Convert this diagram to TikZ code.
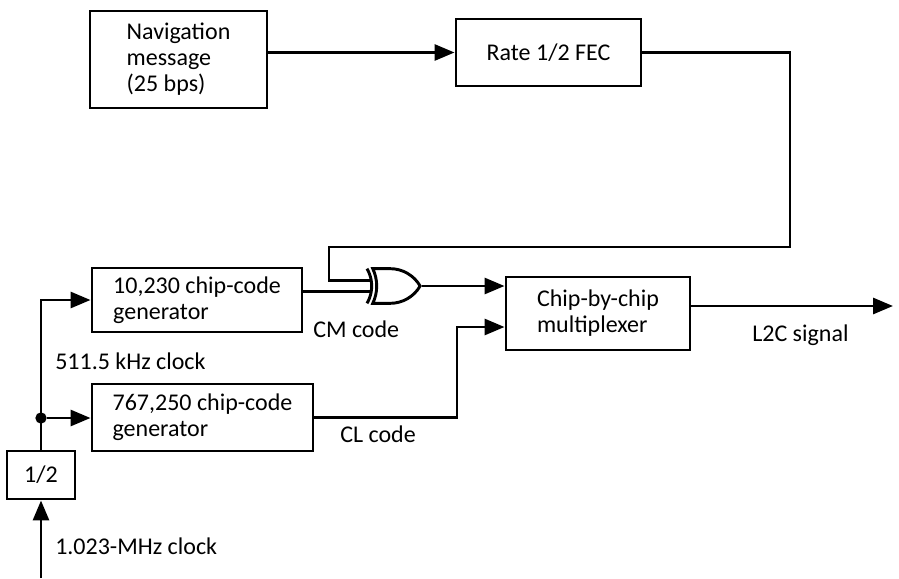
\documentclass[tikz,border=0pt]{standalone}
\usepackage{fontspec}
\setmainfont{Carlito}
\usetikzlibrary{positioning,calc,arrows.meta,shapes.gates.logic.US}
\tikzset{
  blk/.style={rectangle, draw=black, line width=2.2pt, inner sep=0pt, align=left, font=\fontsize{18}{19.5}\selectfont},
  wire/.style={draw=black, line width=2.2pt},
  arr/.style={wire, -{Triangle[length=15pt, width=12pt]}},
  dotn/.style={circle, fill=black, minimum size=8.5pt, inner sep=0pt},
  xorg/.style={xor gate US, draw=black, line width=2.2pt, logic gate inputs=nn, minimum width=35pt, minimum height=26pt, inner sep=0pt},
  lbl/.style={anchor=base west, inner sep=0pt, font=\fontsize{18}{19.5}\selectfont}
}
\begin{document}
\begin{tikzpicture}[x=0.75pt, y=-0.75pt]
  \useasboundingbox (0,0) rectangle (899,578);
  % blocks
  \node[blk, minimum width=132.75pt, minimum height=72.75pt] (nav) at (178.5,59.5) {Navigation\\message\\(25 bps)};
  \node[blk, minimum width=138.75pt, minimum height=50.25pt] (fec) at (548.5,52.5) {Rate 1/2 FEC};
  \node[blk, minimum width=157.5pt, minimum height=48pt] (cmgen) at (197,300) {10,230 chip-code\\generator};
  \node[blk, minimum width=165.75pt, minimum height=50.25pt] (clgen) at (202.5,417.5) {767,250 chip-code\\generator};
  \node[blk, minimum width=138pt, minimum height=54.75pt] (mux) at (598,313.5) {Chip-by-chip\\multiplexer};
  \node[blk, minimum width=51pt, minimum height=36pt] (half) at (41,475) {1/2};
  \node[xorg] (xor) at (393,286) {};
  \node[dotn] (split) at (41,418) {};
  % turning points
  \coordinate (fbR) at (790,247);
  \coordinate (fbL) at (329,247);
  \coordinate (clturn) at (457,327);
  \coordinate (l2c) at (893,306);
  \coordinate (clkin) at (41,578);
  % connectors
  \draw[arr] (fec.west -| nav.east) -- (fec.west);
  \draw[wire] (fec.east) -| (fbR) -- (fbL) |- (xor.input 1);
  \draw[wire] (xor.input 2 -| cmgen.east) -- (xor.input 2);
  \draw[arr] (xor.output) -- (xor.output -| mux.west);
  \draw[arr] (clgen.east) -| (clturn) -- (clturn -| mux.west);
  \draw[arr] (l2c -| mux.east) -- (l2c);
  \draw[arr] (half.north) |- (cmgen.west);
  \draw[arr] (split) -- (split -| clgen.west);
  \draw[arr] (clkin) -- (half.south);
  % labels
  \node[lbl] (cmlbl) at (313,337) {CM code};
  \node[lbl] (cllbl) at (340,442) {CL code};
  \node[lbl] (l2clbl) at (752,341) {L2C signal};
  \node[lbl] (khz) at (55,369) {511.5 kHz clock};
  \node[lbl] (mhz) at (55,554) {1.023-MHz clock};
\end{tikzpicture}
\end{document}
